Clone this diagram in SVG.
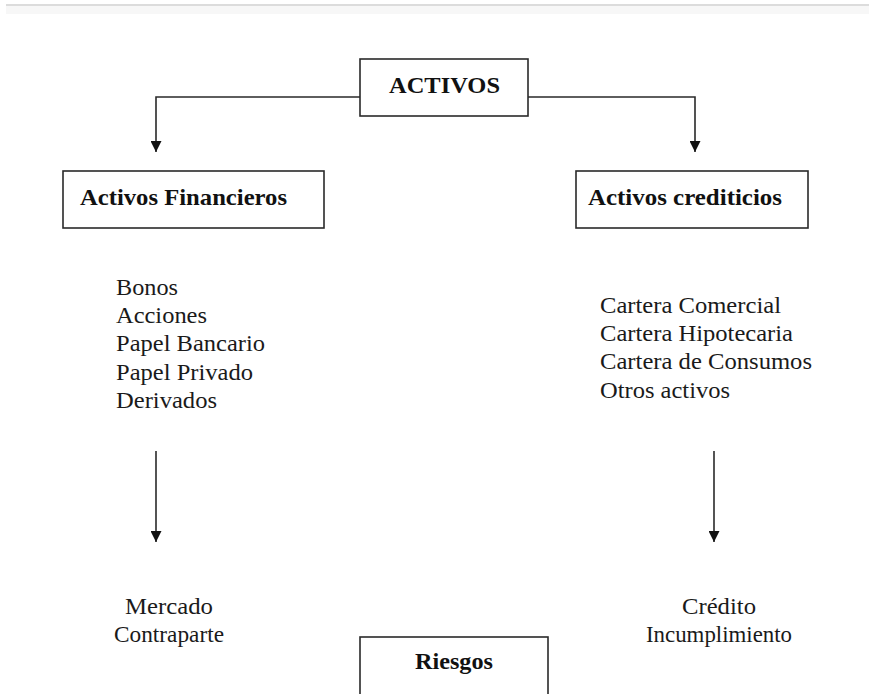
<svg xmlns="http://www.w3.org/2000/svg" width="869" height="694" viewBox="0 0 869 694">
  <style>
    .box { fill: #ffffff; stroke: #2a2a2a; stroke-width: 1.6; }
    .lbl { font-family: "Liberation Serif", "Times New Roman", serif; font-weight: bold; font-size: 24px; fill: #111; }
    .item { font-family: "Liberation Serif", "Times New Roman", serif; font-size: 23px; fill: #1a1a1a; }
    .wire { fill: none; stroke: #2a2a2a; stroke-width: 1.6; }
  </style>
  <defs>
    <marker id="arrow" viewBox="0 0 10 10" refX="10" refY="5" markerWidth="11" markerHeight="11" markerUnits="userSpaceOnUse" orient="auto">
      <path d="M0,0 L10,5 L0,10 z" fill="#111"/>
    </marker>
  </defs>

  <rect width="869" height="694" fill="#ffffff"/>

  <!-- page header rule -->
  <rect x="6" y="4" width="863" height="2" fill="#dcdcdc"/>
  <rect x="6" y="6" width="863" height="8" fill="#f7f7f7"/>

  <!-- connectors -->
  <g id="connectors">
    <path class="wire" d="M360,97 H156 V152" marker-end="url(#arrow)"/>
    <path class="wire" d="M528,97 H695 V152" marker-end="url(#arrow)"/>
    <path class="wire" d="M156,451 V542" marker-end="url(#arrow)"/>
    <path class="wire" d="M714,451 V542" marker-end="url(#arrow)"/>
  </g>

  <g id="activos">
    <rect class="box" x="360" y="59" width="168" height="57"/>
    <text class="lbl" x="444.5" y="93" text-anchor="middle" textLength="111" lengthAdjust="spacingAndGlyphs">ACTIVOS</text>
  </g>

  <g id="activos-financieros">
    <rect class="box" x="63" y="171" width="261" height="57"/>
    <text class="lbl" x="80" y="205" textLength="207" lengthAdjust="spacingAndGlyphs">Activos Financieros</text>
  </g>

  <g id="activos-crediticios">
    <rect class="box" x="576" y="171" width="232" height="57"/>
    <text class="lbl" x="588" y="205" textLength="194" lengthAdjust="spacingAndGlyphs">Activos crediticios</text>
  </g>

  <g id="lista-financieros">
    <text class="item" x="116" y="295" textLength="62" lengthAdjust="spacingAndGlyphs">Bonos</text>
    <text class="item" x="116" y="323" textLength="91" lengthAdjust="spacingAndGlyphs">Acciones</text>
    <text class="item" x="116" y="351" textLength="149" lengthAdjust="spacingAndGlyphs">Papel Bancario</text>
    <text class="item" x="116" y="380" textLength="137" lengthAdjust="spacingAndGlyphs">Papel Privado</text>
    <text class="item" x="116" y="408" textLength="101" lengthAdjust="spacingAndGlyphs">Derivados</text>
  </g>

  <g id="lista-crediticios">
    <text class="item" x="600" y="313" textLength="181" lengthAdjust="spacingAndGlyphs">Cartera Comercial</text>
    <text class="item" x="600" y="341" textLength="193" lengthAdjust="spacingAndGlyphs">Cartera Hipotecaria</text>
    <text class="item" x="600" y="369" textLength="212" lengthAdjust="spacingAndGlyphs">Cartera de Consumos</text>
    <text class="item" x="600" y="398" textLength="130" lengthAdjust="spacingAndGlyphs">Otros activos</text>
  </g>

  <g id="riesgos-financieros">
    <text class="item" x="169" y="614" text-anchor="middle" textLength="88" lengthAdjust="spacingAndGlyphs">Mercado</text>
    <text class="item" x="169" y="642" text-anchor="middle" textLength="110" lengthAdjust="spacingAndGlyphs">Contraparte</text>
  </g>

  <g id="riesgos-crediticios">
    <text class="item" x="719" y="614" text-anchor="middle" textLength="74" lengthAdjust="spacingAndGlyphs">Crédito</text>
    <text class="item" x="719" y="642" text-anchor="middle" textLength="146" lengthAdjust="spacingAndGlyphs">Incumplimiento</text>
  </g>

  <g id="riesgos">
    <rect class="box" x="360" y="637" width="188" height="60"/>
    <text class="lbl" x="454" y="669" text-anchor="middle" textLength="78" lengthAdjust="spacingAndGlyphs">Riesgos</text>
  </g>
</svg>
